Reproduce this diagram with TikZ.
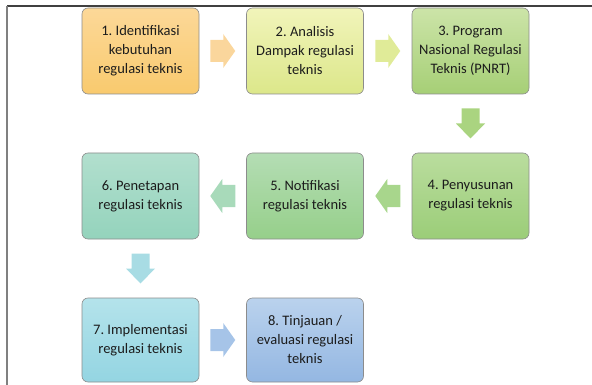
\documentclass[tikz,border=0pt]{standalone}
\usepackage{fontspec}
\setmainfont{Carlito}
\usetikzlibrary{calc}
\frenchspacing
\definecolor{t1}{RGB}{252,216,152}\definecolor{u1}{RGB}{249,202,110}
\definecolor{t2}{RGB}{241,244,186}\definecolor{u2}{RGB}{220,231,138}
\definecolor{t3}{RGB}{204,228,168}\definecolor{u3}{RGB}{166,207,118}
\definecolor{t4}{RGB}{186,221,158}\definecolor{u4}{RGB}{155,205,120}
\definecolor{t5}{RGB}{180,221,180}\definecolor{u5}{RGB}{150,207,138}
\definecolor{t6}{RGB}{178,223,206}\definecolor{u6}{RGB}{148,211,188}
\definecolor{t7}{RGB}{180,227,235}\definecolor{u7}{RGB}{148,213,226}
\definecolor{t8}{RGB}{186,210,237}\definecolor{u8}{RGB}{148,183,226}
\definecolor{a12}{RGB}{250,214,156}
\definecolor{a23}{RGB}{224,235,152}
\definecolor{a34}{RGB}{170,212,128}
\definecolor{a45}{RGB}{168,214,140}
\definecolor{a56}{RGB}{168,218,186}
\definecolor{a67}{RGB}{168,220,228}
\definecolor{a78}{RGB}{166,196,232}
\definecolor{txt}{RGB}{28,28,28}
\tikzset{
  box/.style={draw=black!45, line width=0.6pt, rounded corners=6pt,
    minimum width=117pt, minimum height=86pt, inner sep=0pt,
    align=center, text=txt,
    font=\fontsize{14.5}{19}\selectfont},
  rarr/.pic={\fill[pic actions] (-12.5,-11) -- (0.5,-11) -- (0.5,-17) -- (12.5,0) -- (0.5,17) -- (0.5,11) -- (-12.5,11) -- cycle;},
  darr/.pic={\fill[pic actions] (-9,-15) -- (-9,0) -- (-14.5,0) -- (0,15) -- (14.5,0) -- (9,0) -- (9,-15) -- cycle;}
}
\begin{document}
\begin{tikzpicture}[x=1pt,y=-1pt]
\useasboundingbox (0,0) rectangle (592,385);
\draw[black!75, line width=1.5pt] (7,6) -- (592,6);
\draw[black!50, line width=1.5pt] (7,6) -- (7,385);
\node[box, top color=t1, bottom color=u1] (b1) at (140.5,51) {1. Identifikasi\\kebutuhan\\regulasi teknis};
\node[box, top color=t2, bottom color=u2] (b2) at (305,51) {2. Analisis\\Dampak regulasi\\teknis};
\node[box, top color=t3, bottom color=u3] (b3) at (470.5,51) {3. Program\\Nasional Regulasi\\Teknis (PNRT)};
\node[box, top color=t4, bottom color=u4] (b4) at (470.5,196) {4. Penyusunan\\regulasi teknis};
\node[box, top color=t5, bottom color=u5] (b5) at (305,196) {5. Notifikasi\\regulasi teknis};
\node[box, top color=t6, bottom color=u6] (b6) at (140.5,196) {6. Penetapan\\regulasi teknis};
\node[box, top color=t7, bottom color=u7, minimum height=84pt] (b7) at (140.5,340) {7. Implementasi\\regulasi teknis};
\node[box, top color=t8, bottom color=u8, minimum height=84pt] (b8) at (305,340) {8. Tinjauan /\\evaluasi regulasi\\teknis};
\pic[fill=a12] at ($(b1.east)!0.5!(b2.west)$) {rarr};
\pic[fill=a23] at ($(b2.east)!0.5!(b3.west)$) {rarr};
\pic[fill=a34] at ($(b3.south)!0.5!(b4.north)$) {darr};
\pic[fill=a45, xscale=-1] at ($(b4.west)!0.5!(b5.east)$) {rarr};
\pic[fill=a56, xscale=-1] at ($(b5.west)!0.5!(b6.east)$) {rarr};
\pic[fill=a67] at ($(b6.south)!0.5!(b7.north)$) {darr};
\pic[fill=a78] at ($(b7.east)!0.5!(b8.west)$) {rarr};
\end{tikzpicture}
\end{document}
